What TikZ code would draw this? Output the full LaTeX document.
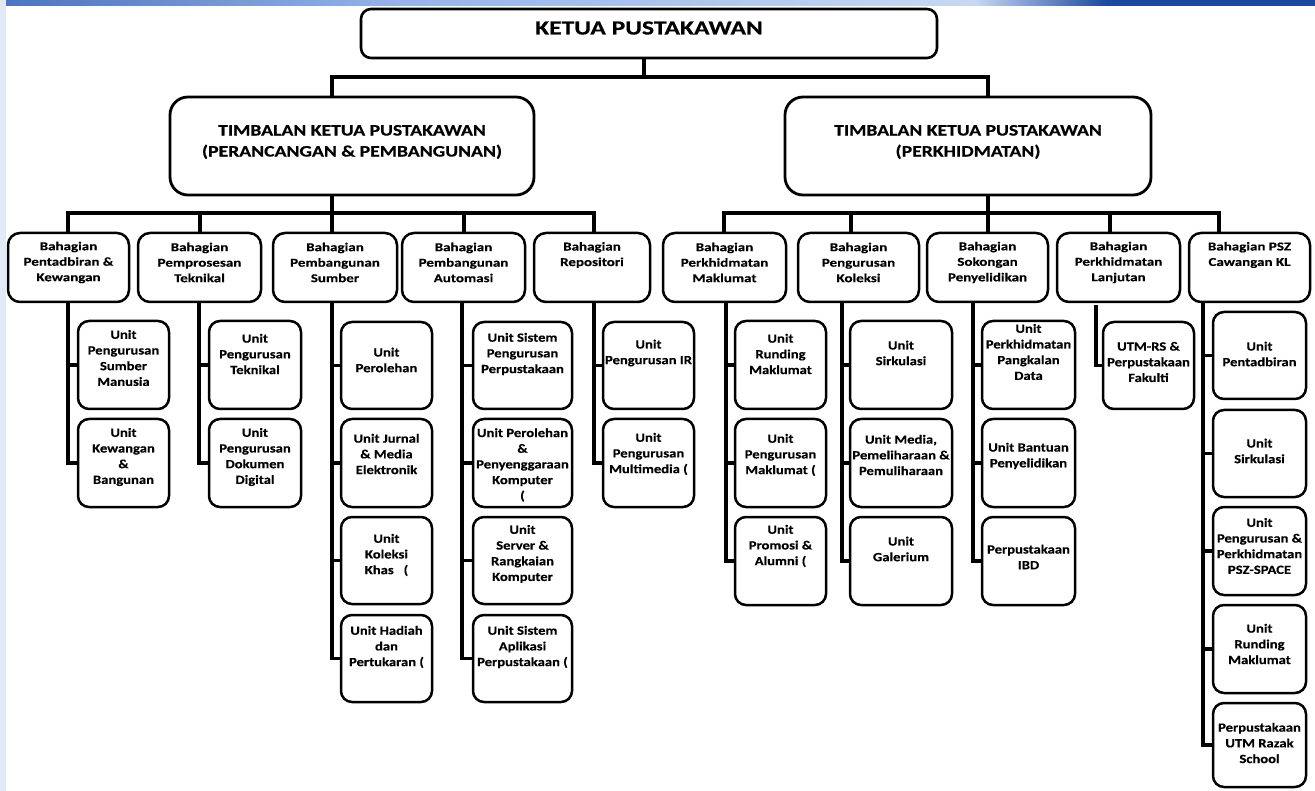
\documentclass[tikz,border=0pt]{standalone}
\usepackage{fontspec}
\setmainfont{Carlito}
\newfontfamily\ufont{Carlito}[FakeStretch=1.17,FakeBold=0.4]
\newfontfamily\bfontf{Carlito}[FakeStretch=1.25,FakeBold=0.4]
\newfontfamily\hfontf{Carlito}[FakeStretch=1.23,FakeBold=0.5]
\newfontfamily\kfontf{Carlito}[FakeStretch=1.28,FakeBold=0.5]
\definecolor{stripblue}{HTML}{E2EAF8}
\definecolor{bandA}{HTML}{0C1E58}
\definecolor{bandB}{HTML}{4F72C4}
\definecolor{bandC}{HTML}{96B4E4}
\definecolor{bandD}{HTML}{C8D8F2}
\definecolor{bandE}{HTML}{2048A0}
\definecolor{bandF}{HTML}{5A7CC6}
\pgfdeclarehorizontalshading{topband}{100bp}{color(0bp)=(bandA); color(10bp)=(bandB); color(25bp)=(bandB); color(40bp)=(bandC); color(62bp)=(bandD); color(67bp)=(bandE); color(80bp)=(bandE); color(88bp)=(bandF); color(100bp)=(bandE)}
\tikzset{
  box/.style={draw=black, line width=2.5pt, fill=white, inner sep=0pt},
  ubox/.style={box, rounded corners=11pt},
  bbox/.style={box, rounded corners=12pt},
  tbox/.style={box, line width=2.8pt, rounded corners=18pt},
  kbox/.style={box, line width=2.6pt, rounded corners=10pt},
  utext/.style={align=center, inner sep=0pt, font=\ufont\bfseries\fontsize{12.5pt}{15.7pt}\selectfont},
  btext/.style={align=center, inner sep=0pt, font=\bfontf\bfseries\fontsize{12pt}{15.5pt}\selectfont},
  htext/.style={align=center, inner sep=0pt, font=\hfontf\bfseries\fontsize{16pt}{21pt}\selectfont},
  ktext/.style={align=center, inner sep=0pt, font=\kfontf\bfseries\fontsize{20pt}{22pt}\selectfont},
  conn/.style={line width=3.2pt, line cap=rect}
}
\newcommand\bx[9]{%
  \node[#1, minimum width={(#6-#4)*1pt}, minimum height={(#7-#5)*1pt}] (#3) at ({(#4+#6)/2},{(#5+#7)/2}) {};
  \node[#2] (#3t) at ({(#4+#6)/2},{#5+#8}) {#9};}
\begin{document}
\begin{tikzpicture}[x=1pt,y=-1pt]
\useasboundingbox (0,0) rectangle (1315,791);
\fill[white] (0,0) rectangle (1315,791);
\fill[stripblue] (0,0) rectangle (6,791);
\shade[shading=topband] (6,0) rectangle (1315,6);

% top levels
\bx{kbox}{ktext}{ketua}{361}{9}{937}{58}{19}{KETUA PUSTAKAWAN}
\bx{tbox}{htext}{tl}{170}{97}{534}{195}{45}{TIMBALAN KETUA PUSTAKAWAN\\(PERANCANGAN \& PEMBANGUNAN)}
\bx{tbox}{htext}{tr}{785}{97}{1151}{195}{45}{TIMBALAN KETUA PUSTAKAWAN\\(PERKHIDMATAN)}

% bahagian
\bx{bbox}{btext}{b1}{8}{233}{129}{302}{29.5}{Bahagian\\Pentadbiran \&\\Kewangan}
\bx{bbox}{btext}{b2}{138}{233}{261}{302}{29.5}{Bahagian\\Pemprosesan\\Teknikal}
\bx{bbox}{btext}{b3}{273}{233}{397}{302}{29.5}{Bahagian\\Pembangunan\\Sumber}
\bx{bbox}{btext}{b4}{402}{233}{525}{302}{29.5}{Bahagian\\Pembangunan\\Automasi}
\bx{bbox}{btext}{b5}{534}{233}{650}{302}{22}{Bahagian\\Repositori}
\bx{bbox}{btext}{b6}{663}{233}{786}{302}{29.5}{Bahagian\\Perkhidmatan\\Maklumat}
\bx{bbox}{btext}{b7}{798}{233}{919}{302}{29.5}{Bahagian\\Pengurusan\\Koleksi}
\bx{bbox}{btext}{b8}{927}{233}{1048}{302}{29.5}{Bahagian\\Sokongan\\Penyelidikan}
\bx{bbox}{btext}{b9}{1057}{233}{1180}{302}{29.5}{Bahagian\\Perkhidmatan\\Lanjutan}
\bx{bbox}{btext}{b10}{1189}{233}{1310}{302}{22}{Bahagian PSZ\\Cawangan KL}

% units col 1
\bx{ubox}{utext}{u11}{78}{321}{169}{409}{37}{Unit\\Pengurusan\\Sumber\\Manusia}
\bx{ubox}{utext}{u12}{78}{419}{169}{507}{38}{Unit\\Kewangan\\\&\\Bangunan}
% col 2
\bx{ubox}{utext}{u21}{209}{321}{301}{409}{33}{Unit\\Pengurusan\\Teknikal}
\bx{ubox}{utext}{u22}{209}{419}{301}{507}{38}{Unit\\Pengurusan\\Dokumen\\Digital}
% col 3
\bx{ubox}{utext}{u31}{341}{322}{432}{409}{38}{Unit\\Perolehan}
\bx{ubox}{utext}{u32}{341}{419}{432}{507}{35}{Unit Jurnal\\\& Media\\Elektronik}
\bx{ubox}{utext}{u33}{341}{517}{432}{604}{38}{Unit\\Koleksi\\Khas~~~(}
\bx{ubox}{utext}{u34}{341}{615}{432}{702}{32}{Unit Hadiah\\dan\\Pertukaran (}
% col 4
\bx{ubox}{utext}{u41}{473}{322}{572}{409}{32}{Unit Sistem\\Pengurusan\\Perpustakaan}
\bx{ubox}{utext}{u42}{473}{419}{572}{507}{46}{Unit Perolehan\\\&\\Penyenggaraan\\Komputer\\(}
\bx{ubox}{utext}{u43}{473}{517}{572}{604}{37}{Unit\\Server \&\\Rangkaian\\Komputer}
\bx{ubox}{utext}{u44}{473}{615}{572}{702}{32}{Unit Sistem\\Aplikasi\\Perpustakaan (}
% col 5
\bx{ubox}{utext}{u51}{603}{322}{694}{409}{31}{Unit\\Pengurusan IR}
\bx{ubox}{utext}{u52}{603}{419}{694}{507}{35}{Unit\\Pengurusan\\Multimedia (}
% col 6
\bx{ubox}{utext}{u61}{735}{321}{826}{409}{33}{Unit\\Runding\\Maklumat}
\bx{ubox}{utext}{u62}{735}{419}{826}{507}{36}{Unit\\Pengurusan\\Maklumat (}
\bx{ubox}{utext}{u63}{735}{517}{826}{605}{29}{Unit\\Promosi \&\\Alumni (}
% col 7
\bx{ubox}{utext}{u71}{850}{321}{952}{409}{32}{Unit\\Sirkulasi}
\bx{ubox}{utext}{u72}{850}{419}{952}{507}{36}{Unit Media,\\Pemeliharaan \&\\Pemuliharaan}
\bx{ubox}{utext}{u73}{850}{517}{952}{605}{32}{Unit\\Galerium}
% col 8
\bx{ubox}{utext}{u81}{982}{321}{1075}{409}{31}{Unit\\Perkhidmatan\\Pangkalan\\Data}
\bx{ubox}{utext}{u82}{982}{419}{1075}{507}{37}{Unit Bantuan\\Penyelidikan}
\bx{ubox}{utext}{u83}{982}{517}{1075}{605}{40}{Perpustakaan\\IBD}
% col 9
\bx{ubox}{utext}{u91}{1103}{322}{1194}{409}{40}{UTM-RS \&\\Perpustakaan\\Fakulti}
% col 10
\bx{ubox}{utext}{u101}{1213}{312}{1306}{399}{42}{Unit\\Pentadbiran}
\bx{ubox}{utext}{u102}{1213}{410}{1306}{497}{41}{Unit\\Sirkulasi}
\bx{ubox}{utext}{u103}{1213}{507}{1306}{595}{39}{Unit\\Pengurusan \&\\Perkhidmatan\\PSZ-SPACE}
\bx{ubox}{utext}{u104}{1213}{605}{1306}{693}{39}{Unit\\Runding\\Maklumat}
\bx{ubox}{utext}{u105}{1213}{703}{1306}{787}{40}{Perpustakaan\\UTM Razak\\School}

% junction coordinates
\coordinate (j0) at (644,77);
\coordinate (cl) at (332,77);
\coordinate (cr) at (988,77);
\coordinate (c1) at (68,213);
\coordinate (c2) at (200,213);
\coordinate (c3) at (332,213);
\coordinate (c4) at (464,213);
\coordinate (c5) at (594,213);
\coordinate (c6) at (724,213);
\coordinate (c7) at (851,213);
\coordinate (c8) at (988,213);
\coordinate (c9) at (1110,213);
\coordinate (c10) at (1219,213);
\coordinate (s1) at (68,0);
\coordinate (s2) at (199,0);
\coordinate (s3) at (332,0);
\coordinate (s4) at (462,0);
\coordinate (s5) at (594,0);
\coordinate (s6) at (726,0);
\coordinate (s7) at (842,0);
\coordinate (s8) at (973,0);
\coordinate (s9top) at (1096,307);
\coordinate (s10) at (1203,0);

% level 1
\draw[conn] (ketua.south -| j0) -- (j0);
\draw[conn] (tl.north -| cl) -- (cl) -- (cr) -- (tr.north -| cr);
% level 2
\draw[conn] (tl.south -| c3) -- (c3);
\draw[conn] (c1) -- (c5);
\draw[conn] (tr.south -| c8) -- (c8);
\draw[conn] (c6) -- (c10);
\foreach \i in {1,...,10}{\draw[conn] (c\i) -- (b\i.north -| c\i);}
% level 3 spines
\draw[conn] (b1.south -| s1) -- (u12.west -| s1) -- (u12.west);
\draw[conn] (u11.west -| s1) -- (u11.west);
\draw[conn] (b2.south -| s2) -- (u22.west -| s2) -- (u22.west);
\draw[conn] (u21.west -| s2) -- (u21.west);
\draw[conn] (b3.south -| s3) -- (u34.west -| s3) -- (u34.west);
\foreach \k in {1,2,3}{\draw[conn] (u3\k.west -| s3) -- (u3\k.west);}
\draw[conn] (b4.south -| s4) -- (u44.west -| s4) -- (u44.west);
\foreach \k in {1,2,3}{\draw[conn] (u4\k.west -| s4) -- (u4\k.west);}
\draw[conn] (b5.south -| s5) -- (u52.west -| s5) -- (u52.west);
\draw[conn] (u51.west -| s5) -- (u51.west);
\draw[conn] (b6.south -| s6) -- (u63.west -| s6) -- (u63.west);
\foreach \k in {1,2}{\draw[conn] (u6\k.west -| s6) -- (u6\k.west);}
\draw[conn] (b7.south -| s7) -- (u73.west -| s7) -- (u73.west);
\foreach \k in {1,2}{\draw[conn] (u7\k.west -| s7) -- (u7\k.west);}
\draw[conn] (b8.south -| s8) -- (u83.west -| s8) -- (u83.west);
\foreach \k in {1,2}{\draw[conn] (u8\k.west -| s8) -- (u8\k.west);}
\draw[conn] (s9top) -- (u91.west -| s9top) -- (u91.west);
\draw[conn] (b10.south -| s10) -- (u105.west -| s10) -- (u105.west);
\foreach \k in {1,2,3,4}{\draw[conn] (u10\k.west -| s10) -- (u10\k.west);}
\end{tikzpicture}
\end{document}
